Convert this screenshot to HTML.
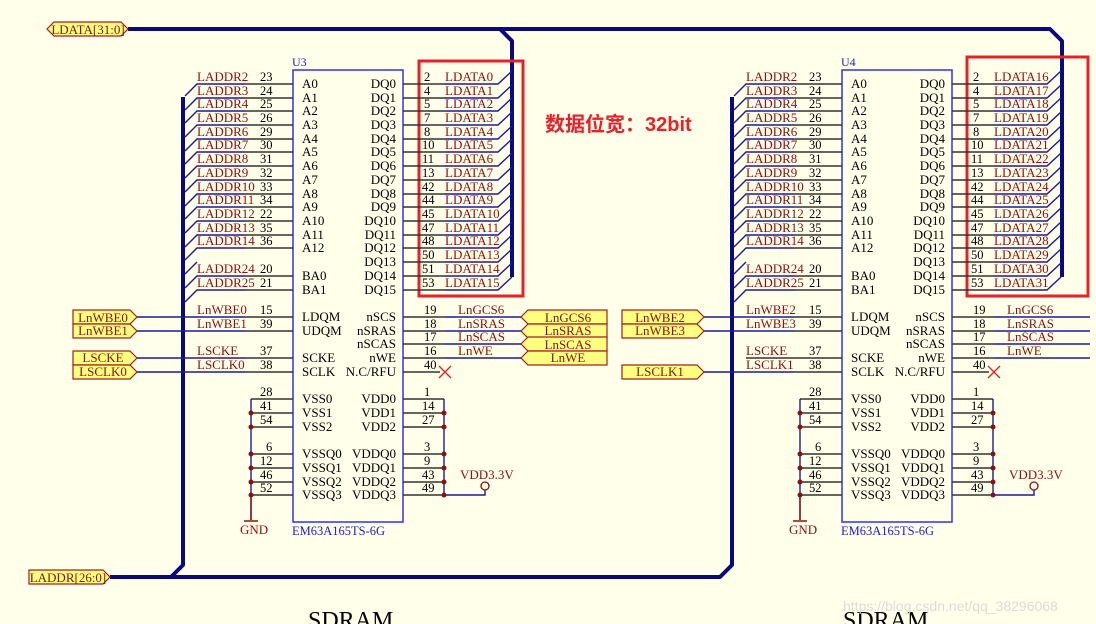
<!DOCTYPE html>
<html><head><meta charset="utf-8"><style>
html,body{margin:0;padding:0;background:#ffffea;}
svg{display:block;font-family:"Liberation Serif",serif;}
.nl{fill:#8b1010;font-size:13px}
.pn{fill:#000;font-size:12.5px}
.pi{fill:#000;font-size:13px}
.w{stroke:#1a1a9a;stroke-width:1.4;fill:none}
.g{stroke:#333;stroke-width:1.4;fill:none}
.bus{stroke:#0a0a80;stroke-width:4;fill:none;stroke-linejoin:round}
.port{fill:#ffff80;stroke:#a02020;stroke-width:1.2}
.pt{fill:#8b1010;font-size:13px;text-anchor:middle}
.dot{fill:#8b1010}
</style></head><body>
<svg width="1096" height="624" viewBox="0 0 1096 624" xmlns="http://www.w3.org/2000/svg">
<rect width="1096" height="624" fill="#ffffea"/>
<!-- buses -->
<path class="bus" d="M128 29 H1050 L1062 41 V277"/>
<path class="bus" d="M500 29 L512 41 V277"/>
<path class="bus" d="M110 577 H720 L732 565 V97"/>
<path class="bus" d="M171 577 L183 565 V97"/>

<!-- ports -->
<polygon class="port" points="47,29 54,22 121,22 128,29 121,36 54,36"/><text class="pt" x="88" y="34">LDATA[31:0]</text>
<polygon class="port" points="29,570 103,570 110,577 103,584 29,584"/><text class="pt" x="68" y="582">LADDR[26:0]</text>

<g>
<polygon class="port" points="73,310 130,310 137,317 130,324 73,324"/><text class="pt" x="103" y="322">LnWBE0</text>
<polygon class="port" points="73,324 130,324 137,331 130,338 73,338"/><text class="pt" x="103" y="335">LnWBE1</text>
<polygon class="port" points="73,351 130,351 137,358 130,365 73,365"/><text class="pt" x="103" y="362">LSCKE</text>
<polygon class="port" points="73,365 130,365 137,372 130,379 73,379"/><text class="pt" x="103" y="376">LSCLK0</text>
<path class="w" d="M137 317 H245 M137 331 H245 M137 358 H245 M137 372 H245"/>
<polygon class="port" points="521,317 528,310 607,310 607,324 528,324"/><text class="pt" x="568" y="322">LnGCS6</text>
<polygon class="port" points="521,331 528,324 607,324 607,338 528,338"/><text class="pt" x="568" y="335">LnSRAS</text>
<polygon class="port" points="521,344 528,337 607,337 607,351 528,351"/><text class="pt" x="568" y="349">LnSCAS</text>
<polygon class="port" points="521,358 528,351 607,351 607,365 528,365"/><text class="pt" x="568" y="362">LnWE</text>
<path class="w" d="M445 317 H521 M445 331 H521 M445 344 H521 M445 358 H521"/>
</g>
<g>
<polygon class="port" points="622,310 697,310 704,317 697,324 622,324"/><text class="pt" x="660" y="322">LnWBE2</text>
<polygon class="port" points="622,324 697,324 704,331 697,338 622,338"/><text class="pt" x="660" y="335">LnWBE3</text>
<polygon class="port" points="622,365 697,365 704,372 697,379 622,379"/><text class="pt" x="660" y="376">LSCLK1</text>
<path class="w" d="M704 317 H794 M704 331 H794 M704 372 H794"/>
<path class="w" d="M994 317 H1090 M994 331 H1090 M994 344 H1090 M994 358 H1090"/>
</g>

<!-- red boxes & annotation -->
<rect x="419" y="61" width="104" height="235" fill="none" stroke="#e8202a" stroke-width="3"/>
<rect x="967" y="57" width="121" height="239" fill="none" stroke="#e8202a" stroke-width="3"/>
<text x="545" y="131" fill="#e8202a" font-family="'Liberation Sans','Noto Sans CJK SC',sans-serif" font-size="20" font-weight="bold">数据位宽：32bit</text>

<!-- CHIP 1 -->
<g id="c1">
<text x="292" y="66" fill="#2020c0" font-size="12">U3</text>
<rect x="293" y="70" width="110" height="452" fill="none" stroke="#3030f0" stroke-width="1.5"/>
<path class="w" d="M185 96L197 84H245M185 110L197 98H245M185 123L197 111H245M185 137L197 125H245M185 151L197 139H245M185 164L197 152H245M185 178L197 166H245M185 192L197 180H245M185 206L197 194H245M185 219L197 207H245M185 233L197 221H245M185 247L197 235H245M185 260L197 248H245M185 274L197 262M185 288L197 276H245M185 302L197 290H245"/>
<path class="g" d="M245 84H293M245 98H293M245 111H293M245 125H293M245 139H293M245 152H293M245 166H293M245 180H293M245 194H293M245 207H293M245 221H293M245 235H293M245 248H293M245 276H293M245 290H293M245 317H293M245 331H293M245 358H293M245 372H293"/>
<path class="g" d="M403 84H445M403 98H445M403 111H445M403 125H445M403 139H445M403 152H445M403 166H445M403 180H445M403 194H445M403 207H445M403 221H445M403 235H445M403 248H445M403 262H445M403 276H445M403 290H445M403 317H445M403 331H445M403 344H445M403 358H445M403 372H440"/>
<path class="w" d="M445 84H498L512 71M445 98H498L512 85M445 111H498L512 98M445 125H498L512 112M445 139H498L512 126M445 152H498L512 139M445 166H498L512 153M445 180H498L512 167M445 194H498L512 181M445 207H498L512 194M445 221H498L512 208M445 235H498L512 222M445 248H498L512 235M445 262H498L512 249M445 276H498L512 263M445 290H498L512 277"/>
<path d="M439 366L451 378M451 366L439 378" stroke="#e02020" stroke-width="1.3"/>
<g class="nl"><text x="197" y="81">LADDR2</text><text x="197" y="95">LADDR3</text><text x="197" y="108">LADDR4</text><text x="197" y="122">LADDR5</text><text x="197" y="136">LADDR6</text><text x="197" y="149">LADDR7</text><text x="197" y="163">LADDR8</text><text x="197" y="177">LADDR9</text><text x="197" y="191">LADDR10</text><text x="197" y="204">LADDR11</text><text x="197" y="218">LADDR12</text><text x="197" y="232">LADDR13</text><text x="197" y="245">LADDR14</text><text x="197" y="273">LADDR24</text><text x="197" y="287">LADDR25</text><text x="197" y="314">LnWBE0</text><text x="197" y="328">LnWBE1</text><text x="197" y="355">LSCKE</text><text x="197" y="369">LSCLK0</text>
<text x="445" y="81">LDATA0</text><text x="445" y="95">LDATA1</text><text x="445" y="108">LDATA2</text><text x="445" y="122">LDATA3</text><text x="445" y="136">LDATA4</text><text x="445" y="149">LDATA5</text><text x="445" y="163">LDATA6</text><text x="445" y="177">LDATA7</text><text x="445" y="191">LDATA8</text><text x="445" y="204">LDATA9</text><text x="445" y="218">LDATA10</text><text x="445" y="232">LDATA11</text><text x="445" y="245">LDATA12</text><text x="445" y="259">LDATA13</text><text x="445" y="273">LDATA14</text><text x="445" y="287">LDATA15</text>
<text x="458" y="314">LnGCS6</text><text x="458" y="328">LnSRAS</text><text x="458" y="341">LnSCAS</text><text x="458" y="355">LnWE</text></g>
<g class="pn"><text x="260" y="81">23</text><text x="260" y="95">24</text><text x="260" y="108">25</text><text x="260" y="122">26</text><text x="260" y="136">29</text><text x="260" y="149">30</text><text x="260" y="163">31</text><text x="260" y="177">32</text><text x="260" y="191">33</text><text x="260" y="204">34</text><text x="260" y="218">22</text><text x="260" y="232">35</text><text x="260" y="245">36</text><text x="260" y="273">20</text><text x="260" y="287">21</text><text x="260" y="314">15</text><text x="260" y="328">39</text><text x="260" y="355">37</text><text x="260" y="369">38</text>
<text x="260" y="396">28</text><text x="260" y="410">41</text><text x="260" y="424">54</text><text x="266" y="451">6</text><text x="260" y="465">12</text><text x="260" y="479">46</text><text x="260" y="492">52</text>
<text x="424" y="81">2</text><text x="424" y="95">4</text><text x="424" y="108">5</text><text x="424" y="122">7</text><text x="424" y="136">8</text><text x="422" y="149">10</text><text x="422" y="163">11</text><text x="422" y="177">13</text><text x="422" y="191">42</text><text x="422" y="204">44</text><text x="422" y="218">45</text><text x="422" y="232">47</text><text x="422" y="245">48</text><text x="422" y="259">50</text><text x="422" y="273">51</text><text x="422" y="287">53</text>
<text x="424" y="314">19</text><text x="424" y="328">18</text><text x="424" y="341">17</text><text x="424" y="355">16</text><text x="424" y="369">40</text>
<text x="424" y="396">1</text><text x="422" y="410">14</text><text x="422" y="424">27</text><text x="424" y="451">3</text><text x="424" y="465">9</text><text x="422" y="479">43</text><text x="422" y="492">49</text></g>
<g class="pi"><text x="302" y="88">A0</text><text x="302" y="102">A1</text><text x="302" y="115">A2</text><text x="302" y="129">A3</text><text x="302" y="143">A4</text><text x="302" y="156">A5</text><text x="302" y="170">A6</text><text x="302" y="184">A7</text><text x="302" y="198">A8</text><text x="302" y="211">A9</text><text x="302" y="225">A10</text><text x="302" y="239">A11</text><text x="302" y="252">A12</text><text x="302" y="280">BA0</text><text x="302" y="294">BA1</text><text x="302" y="321">LDQM</text><text x="302" y="335">UDQM</text><text x="302" y="362">SCKE</text><text x="302" y="376">SCLK</text>
<text x="302" y="403">VSS0</text><text x="302" y="417">VSS1</text><text x="302" y="431">VSS2</text><text x="302" y="458">VSSQ0</text><text x="302" y="472">VSSQ1</text><text x="302" y="486">VSSQ2</text><text x="302" y="499">VSSQ3</text>
<g text-anchor="end"><text x="396" y="88">DQ0</text><text x="396" y="102">DQ1</text><text x="396" y="115">DQ2</text><text x="396" y="129">DQ3</text><text x="396" y="143">DQ4</text><text x="396" y="156">DQ5</text><text x="396" y="170">DQ6</text><text x="396" y="184">DQ7</text><text x="396" y="198">DQ8</text><text x="396" y="211">DQ9</text><text x="396" y="225">DQ10</text><text x="396" y="239">DQ11</text><text x="396" y="252">DQ12</text><text x="396" y="266">DQ13</text><text x="396" y="280">DQ14</text><text x="396" y="294">DQ15</text>
<text x="396" y="321">nSCS</text><text x="396" y="335">nSRAS</text><text x="396" y="348">nSCAS</text><text x="396" y="362">nWE</text><text x="396" y="376">N.C/RFU</text>
<text x="396" y="403">VDD0</text><text x="396" y="417">VDD1</text><text x="396" y="431">VDD2</text><text x="396" y="458">VDDQ0</text><text x="396" y="472">VDDQ1</text><text x="396" y="486">VDDQ2</text><text x="396" y="499">VDDQ3</text></g></g>
<path class="g" d="M251 399H293M251 413H293M251 427H293M251 454H293M251 468H293M251 482H293M251 495H293M403 399H444M403 413H444M403 427H444M403 454H444M403 468H444M403 482H444M403 495H444"/>
<path d="M251 399V520M444 399V495" stroke="#1a1a9a" stroke-width="1.4" fill="none"/>
<path d="M251 495V520M244 521H258" stroke="#8b1010" stroke-width="1.4"/>
<path class="w" d="M444 495H485V490"/>
<circle cx="485" cy="486" r="4" fill="none" stroke="#8b1010" stroke-width="1.3"/>
<text x="460" y="479" class="nl">VDD3.3V</text>
<text x="240" y="534" class="nl">GND</text>
<g class="dot"><circle cx="251" cy="413" r="2.5"/><circle cx="251" cy="427" r="2.5"/><circle cx="251" cy="454" r="2.5"/><circle cx="251" cy="468" r="2.5"/><circle cx="251" cy="482" r="2.5"/><circle cx="251" cy="495" r="2.5"/><circle cx="444" cy="413" r="2.5"/><circle cx="444" cy="427" r="2.5"/><circle cx="444" cy="454" r="2.5"/><circle cx="444" cy="468" r="2.5"/><circle cx="444" cy="482" r="2.5"/><circle cx="444" cy="495" r="2.5"/></g>
<text x="292" y="535" fill="#2020c0" font-size="12.5">EM63A165TS-6G</text>
<text x="308" y="628" font-size="24" fill="#000">SDRAM</text>
</g>

<!-- CHIP 2 -->
<g transform="translate(549,0)">
<text x="292" y="66" fill="#2020c0" font-size="12">U4</text>
<rect x="293" y="70" width="110" height="452" fill="none" stroke="#3030f0" stroke-width="1.5"/>
<path class="w" d="M185 96L197 84H245M185 110L197 98H245M185 123L197 111H245M185 137L197 125H245M185 151L197 139H245M185 164L197 152H245M185 178L197 166H245M185 192L197 180H245M185 206L197 194H245M185 219L197 207H245M185 233L197 221H245M185 247L197 235H245M185 260L197 248H245M185 274L197 262M185 288L197 276H245M185 302L197 290H245"/>
<path class="g" d="M245 84H293M245 98H293M245 111H293M245 125H293M245 139H293M245 152H293M245 166H293M245 180H293M245 194H293M245 207H293M245 221H293M245 235H293M245 248H293M245 276H293M245 290H293M245 317H293M245 331H293M197 358H293M245 372H293"/>
<path class="g" d="M403 84H445M403 98H445M403 111H445M403 125H445M403 139H445M403 152H445M403 166H445M403 180H445M403 194H445M403 207H445M403 221H445M403 235H445M403 248H445M403 262H445M403 276H445M403 290H445M403 317H445M403 331H445M403 344H445M403 358H445M403 372H440"/>
<path class="w" d="M445 84H498L512 71M445 98H498L512 85M445 111H498L512 98M445 125H498L512 112M445 139H498L512 126M445 152H498L512 139M445 166H498L512 153M445 180H498L512 167M445 194H498L512 181M445 207H498L512 194M445 221H498L512 208M445 235H498L512 222M445 248H498L512 235M445 262H498L512 249M445 276H498L512 263M445 290H498L512 277"/>
<path d="M439 366L451 378M451 366L439 378" stroke="#e02020" stroke-width="1.3"/>
<g class="nl"><text x="197" y="81">LADDR2</text><text x="197" y="95">LADDR3</text><text x="197" y="108">LADDR4</text><text x="197" y="122">LADDR5</text><text x="197" y="136">LADDR6</text><text x="197" y="149">LADDR7</text><text x="197" y="163">LADDR8</text><text x="197" y="177">LADDR9</text><text x="197" y="191">LADDR10</text><text x="197" y="204">LADDR11</text><text x="197" y="218">LADDR12</text><text x="197" y="232">LADDR13</text><text x="197" y="245">LADDR14</text><text x="197" y="273">LADDR24</text><text x="197" y="287">LADDR25</text><text x="197" y="314">LnWBE2</text><text x="197" y="328">LnWBE3</text><text x="197" y="355">LSCKE</text><text x="197" y="369">LSCLK1</text>
<text x="445" y="81">LDATA16</text><text x="445" y="95">LDATA17</text><text x="445" y="108">LDATA18</text><text x="445" y="122">LDATA19</text><text x="445" y="136">LDATA20</text><text x="445" y="149">LDATA21</text><text x="445" y="163">LDATA22</text><text x="445" y="177">LDATA23</text><text x="445" y="191">LDATA24</text><text x="445" y="204">LDATA25</text><text x="445" y="218">LDATA26</text><text x="445" y="232">LDATA27</text><text x="445" y="245">LDATA28</text><text x="445" y="259">LDATA29</text><text x="445" y="273">LDATA30</text><text x="445" y="287">LDATA31</text>
<text x="458" y="314">LnGCS6</text><text x="458" y="328">LnSRAS</text><text x="458" y="341">LnSCAS</text><text x="458" y="355">LnWE</text></g>
<g class="pn"><text x="260" y="81">23</text><text x="260" y="95">24</text><text x="260" y="108">25</text><text x="260" y="122">26</text><text x="260" y="136">29</text><text x="260" y="149">30</text><text x="260" y="163">31</text><text x="260" y="177">32</text><text x="260" y="191">33</text><text x="260" y="204">34</text><text x="260" y="218">22</text><text x="260" y="232">35</text><text x="260" y="245">36</text><text x="260" y="273">20</text><text x="260" y="287">21</text><text x="260" y="314">15</text><text x="260" y="328">39</text><text x="260" y="355">37</text><text x="260" y="369">38</text>
<text x="260" y="396">28</text><text x="260" y="410">41</text><text x="260" y="424">54</text><text x="266" y="451">6</text><text x="260" y="465">12</text><text x="260" y="479">46</text><text x="260" y="492">52</text>
<text x="424" y="81">2</text><text x="424" y="95">4</text><text x="424" y="108">5</text><text x="424" y="122">7</text><text x="424" y="136">8</text><text x="422" y="149">10</text><text x="422" y="163">11</text><text x="422" y="177">13</text><text x="422" y="191">42</text><text x="422" y="204">44</text><text x="422" y="218">45</text><text x="422" y="232">47</text><text x="422" y="245">48</text><text x="422" y="259">50</text><text x="422" y="273">51</text><text x="422" y="287">53</text>
<text x="424" y="314">19</text><text x="424" y="328">18</text><text x="424" y="341">17</text><text x="424" y="355">16</text><text x="424" y="369">40</text>
<text x="424" y="396">1</text><text x="422" y="410">14</text><text x="422" y="424">27</text><text x="424" y="451">3</text><text x="424" y="465">9</text><text x="422" y="479">43</text><text x="422" y="492">49</text></g>
<g class="pi"><text x="302" y="88">A0</text><text x="302" y="102">A1</text><text x="302" y="115">A2</text><text x="302" y="129">A3</text><text x="302" y="143">A4</text><text x="302" y="156">A5</text><text x="302" y="170">A6</text><text x="302" y="184">A7</text><text x="302" y="198">A8</text><text x="302" y="211">A9</text><text x="302" y="225">A10</text><text x="302" y="239">A11</text><text x="302" y="252">A12</text><text x="302" y="280">BA0</text><text x="302" y="294">BA1</text><text x="302" y="321">LDQM</text><text x="302" y="335">UDQM</text><text x="302" y="362">SCKE</text><text x="302" y="376">SCLK</text>
<text x="302" y="403">VSS0</text><text x="302" y="417">VSS1</text><text x="302" y="431">VSS2</text><text x="302" y="458">VSSQ0</text><text x="302" y="472">VSSQ1</text><text x="302" y="486">VSSQ2</text><text x="302" y="499">VSSQ3</text>
<g text-anchor="end"><text x="396" y="88">DQ0</text><text x="396" y="102">DQ1</text><text x="396" y="115">DQ2</text><text x="396" y="129">DQ3</text><text x="396" y="143">DQ4</text><text x="396" y="156">DQ5</text><text x="396" y="170">DQ6</text><text x="396" y="184">DQ7</text><text x="396" y="198">DQ8</text><text x="396" y="211">DQ9</text><text x="396" y="225">DQ10</text><text x="396" y="239">DQ11</text><text x="396" y="252">DQ12</text><text x="396" y="266">DQ13</text><text x="396" y="280">DQ14</text><text x="396" y="294">DQ15</text>
<text x="396" y="321">nSCS</text><text x="396" y="335">nSRAS</text><text x="396" y="348">nSCAS</text><text x="396" y="362">nWE</text><text x="396" y="376">N.C/RFU</text>
<text x="396" y="403">VDD0</text><text x="396" y="417">VDD1</text><text x="396" y="431">VDD2</text><text x="396" y="458">VDDQ0</text><text x="396" y="472">VDDQ1</text><text x="396" y="486">VDDQ2</text><text x="396" y="499">VDDQ3</text></g></g>
<path class="g" d="M251 399H293M251 413H293M251 427H293M251 454H293M251 468H293M251 482H293M251 495H293M403 399H444M403 413H444M403 427H444M403 454H444M403 468H444M403 482H444M403 495H444"/>
<path d="M251 399V520M444 399V495" stroke="#1a1a9a" stroke-width="1.4" fill="none"/>
<path d="M251 495V520M244 521H258" stroke="#8b1010" stroke-width="1.4"/>
<path class="w" d="M444 495H485V490"/>
<circle cx="485" cy="486" r="4" fill="none" stroke="#8b1010" stroke-width="1.3"/>
<text x="460" y="479" class="nl">VDD3.3V</text>
<text x="240" y="534" class="nl">GND</text>
<g class="dot"><circle cx="251" cy="413" r="2.5"/><circle cx="251" cy="427" r="2.5"/><circle cx="251" cy="454" r="2.5"/><circle cx="251" cy="468" r="2.5"/><circle cx="251" cy="482" r="2.5"/><circle cx="251" cy="495" r="2.5"/><circle cx="444" cy="413" r="2.5"/><circle cx="444" cy="427" r="2.5"/><circle cx="444" cy="454" r="2.5"/><circle cx="444" cy="468" r="2.5"/><circle cx="444" cy="482" r="2.5"/><circle cx="444" cy="495" r="2.5"/></g>
<text x="292" y="535" fill="#2020c0" font-size="12.5">EM63A165TS-6G</text>
<text x="294" y="628" font-size="24" fill="#000">SDRAM</text>
</g>
<text x="843" y="611" font-family="'Liberation Sans',sans-serif" font-size="14" fill="#d8d8d8" opacity="0.9">https://blog.csdn.net/qq_38296068</text>
</svg>
</body></html>
